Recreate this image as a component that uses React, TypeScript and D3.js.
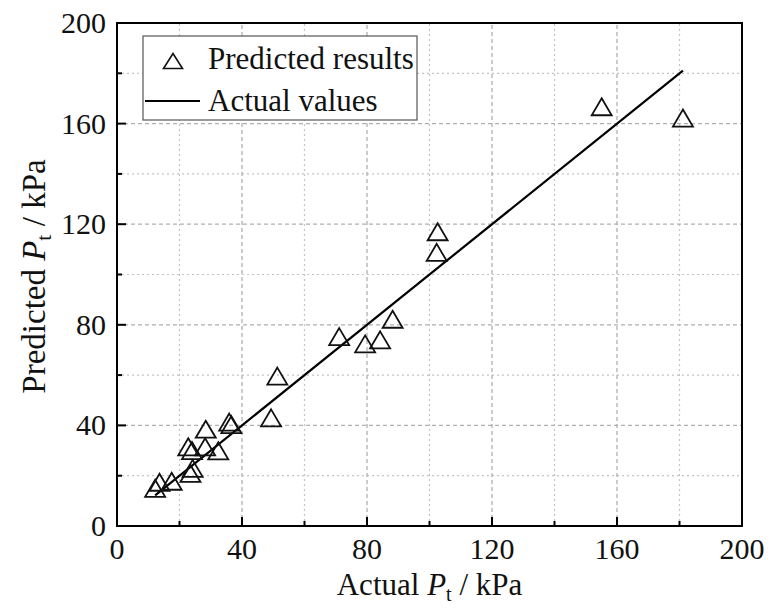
import React from "react";
import * as d3 from "d3";

// values (kPa)
const actualPt = [12.2, 13.6, 17.5, 23.5, 24.2, 22.8, 24.0, 28.2, 32.4, 28.4, 35.9, 36.6, 49.3, 51.3, 71.1, 79.4, 84.2, 88.2, 102.3, 102.6, 155.1, 181.1];
const predictedPt = [15.0, 17.4, 17.8, 20.9, 22.9, 31.5, 30.0, 31.5, 29.9, 38.5, 41.3, 40.3, 43.0, 59.6, 75.3, 72.4, 74.0, 82.2, 108.8, 117.0, 166.7, 162.2];
const majorTicks = [0, 40, 80, 120, 160, 200];
const minorTicks = [20, 60, 100, 140, 180];

const W = 769, H = 608;
const font = "'Liberation Serif', 'Times New Roman', serif";

function tri(cx: number, cy: number, w = 20, h = 17) {
  const p = d3.path();
  p.moveTo(cx, cy - h / 2);
  p.lineTo(cx + w / 2, cy + h / 2);
  p.lineTo(cx - w / 2, cy + h / 2);
  p.closePath();
  return p.toString();
}

function Title(props: { pre: string; sub: number }) {
  return (
    <>
      {props.pre}
      <tspan fontStyle="italic">P</tspan>
      <tspan fontSize={props.sub} dy={6}>t</tspan>
      <tspan dy={-6}> / kPa</tspan>
    </>
  );
}

export default function App() {
  const x = d3.scaleLinear().domain([0, 200]).range([117, 742]);
  const y = d3.scaleLinear().domain([0, 200]).range([526, 23]);
  const [lo, hi] = d3.extent(actualPt) as [number, number];
  const fitLine = d3.line<number>().x(d => x(d)).y(d => y(d));

  return (
    <svg width={W} height={H} style={{ position: "absolute", left: 0, top: 0, background: "#fff", fontFamily: font }}>
      {/* grid */}
      {minorTicks.map(t => (
        <g key={"mn" + t} stroke="#c4c4c4" strokeWidth={1.2} strokeDasharray="2,3">
          <line x1={x(t)} x2={x(t)} y1={y(0)} y2={y(200)} />
          <line x1={x(0)} x2={x(200)} y1={y(t)} y2={y(t)} />
        </g>
      ))}
      {majorTicks.slice(1, -1).map(t => (
        <g key={"mj" + t} stroke="#b0b0b0" strokeWidth={1.3} strokeDasharray="4,3">
          <line x1={x(t)} x2={x(t)} y1={y(0)} y2={y(200)} />
          <line x1={x(0)} x2={x(200)} y1={y(t)} y2={y(t)} />
        </g>
      ))}

      {/* ticks */}
      {majorTicks.map(t => (
        <g key={"t" + t} stroke="#000" strokeWidth={2}>
          <line x1={x(t)} x2={x(t)} y1={y(0)} y2={y(0) - 9} />
          <line x1={x(0)} x2={x(0) + 9} y1={y(t)} y2={y(t)} />
        </g>
      ))}
      {minorTicks.map(t => (
        <g key={"m" + t} stroke="#000" strokeWidth={2}>
          <line x1={x(t)} x2={x(t)} y1={y(0)} y2={y(0) - 5} />
          <line x1={x(0)} x2={x(0) + 5} y1={y(t)} y2={y(t)} />
        </g>
      ))}

      {/* tick labels */}
      {majorTicks.map(t => (
        <text key={"xl" + t} x={x(t)} y={559} fontSize={30} textAnchor="middle" fill="#111">{t}</text>
      ))}
      {majorTicks.map(t => (
        <text key={"yl" + t} x={106} y={y(t) + 10} fontSize={30} textAnchor="end" fill="#111">{t}</text>
      ))}

      {/* 1:1 line */}
      <path d={fitLine([lo, hi]) || ""} fill="none" stroke="#000" strokeWidth={2.2} />

      {/* points */}
      {actualPt.map((a, i) => (
        <path key={"p" + i} d={tri(x(a), y(predictedPt[i]))} fill="none" stroke="#111" strokeWidth={1.8} />
      ))}

      {/* frame */}
      <rect x={x(0)} y={y(200)} width={x(200) - x(0)} height={y(0) - y(200)} fill="none" stroke="#000" strokeWidth={2} />

      {/* legend */}
      <rect x={143} y={36} width={274} height={84} fill="#fff" stroke="#555" strokeWidth={1.2} />
      <path d={tri(173, 61, 19, 15)} fill="none" stroke="#111" strokeWidth={1.6} />
      <text x={208} y={69} fontSize={31} fill="#111">Predicted results</text>
      <line x1={145} x2={200} y1={101} y2={101} stroke="#000" strokeWidth={2.2} />
      <text x={208} y={111} fontSize={31} fill="#111">Actual values</text>

      {/* axis titles */}
      <text x={(x(0) + x(200)) / 2} y={595} fontSize={31} textAnchor="middle" fill="#111">
        <Title pre="Actual " sub={20} />
      </text>
      <text transform={`translate(45, ${(y(0) + y(200)) / 2 + 2}) rotate(-90)`} fontSize={33} textAnchor="middle" fill="#111">
        <Title pre="Predicted " sub={22} />
      </text>
    </svg>
  );
}
